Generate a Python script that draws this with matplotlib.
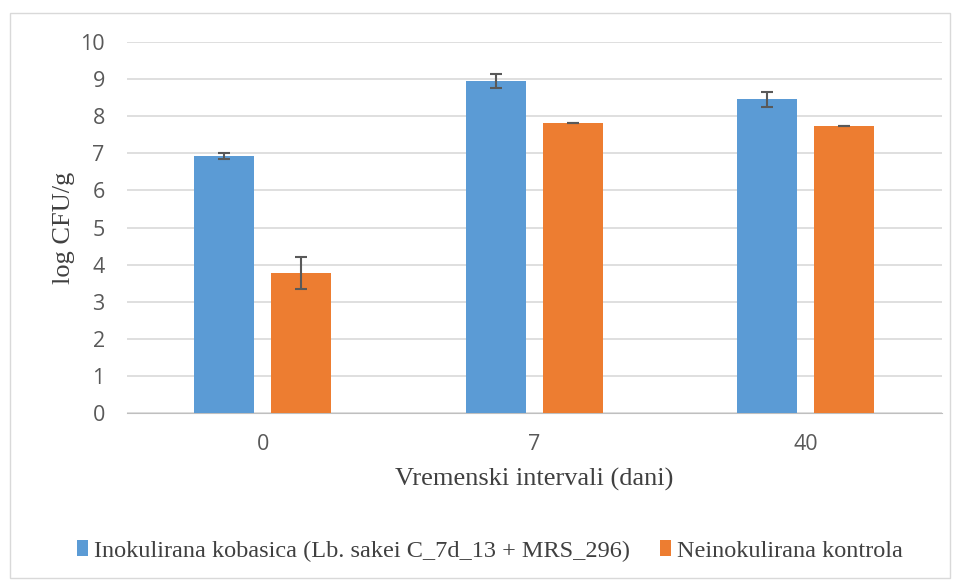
import matplotlib.pyplot as plt
import numpy as np
from matplotlib.patches import Rectangle

# data
days = ['0', '7', '40']
inokulirana = [6.93, 8.95, 8.46]
inokulirana_err = [0.07, 0.19, 0.20]
kontrola = [3.77, 7.82, 7.74]
kontrola_err = [0.43, 0.01, 0.01]

blue = '#5b9bd5'
orange = '#ed7d31'
grey = '#595959'

fig = plt.figure(figsize=(9.57, 5.81), dpi=100)
ax = fig.add_axes([0.1327, 0.289, 0.8513, 0.6387])

# outer chart border
fig.patches.append(Rectangle((10/957, 1 - 578/581), 940/957, 565/581,
                             transform=fig.transFigure, fill=False,
                             edgecolor='#d9d9d9', linewidth=1))

x = np.arange(len(days))
w = 0.221
off = 0.142
ax.bar(x - off, inokulirana, w, color=blue, yerr=inokulirana_err,
       error_kw=dict(ecolor=grey, elinewidth=1.5, capsize=4.5, capthick=1.5),
       label='Inokulirana kobasica (Lb. sakei C_7d_13 + MRS_296)', zorder=3)
ax.bar(x + off, kontrola, w, color=orange, yerr=kontrola_err,
       error_kw=dict(ecolor=grey, elinewidth=1.5, capsize=4.5, capthick=1.5),
       label='Neinokulirana kontrola', zorder=3)

ax.set_xlim(-0.5, 2.5)
ax.set_ylim(0, 10)
ax.set_yticks(range(0, 11))
ax.set_xticks(x)
ax.set_xticklabels(days)
ax.yaxis.grid(True, color='#d9d9d9', linewidth=1.2, zorder=0)
ax.set_axisbelow(True)
for s in ['top', 'right', 'left']:
    ax.spines[s].set_visible(False)
ax.spines['bottom'].set_color('#bfbfbf')
ax.tick_params(axis='both', length=0, labelsize=15.5, labelcolor=grey)
ax.tick_params(axis='y', pad=16)
ax.tick_params(axis='x', pad=15)
for lab in ax.get_xticklabels() + ax.get_yticklabels():
    lab.set_family('Open Sans')

ax.set_ylabel('log CFU/g', family='Liberation Serif', fontsize=19, color='#404040', labelpad=4)
ax.set_xlabel('Vremenski intervali (dani)', family='Liberation Serif', fontsize=19,
              color='#404040', labelpad=9)

leg = fig.legend(loc='center', bbox_to_anchor=(0.512, 1 - 551/581), ncol=2, frameon=False,
                 prop={'family': 'Liberation Serif', 'size': 17.5}, handlelength=0.45,
                 handleheight=0.6, handletextpad=0.25, columnspacing=1.2)
for t in leg.get_texts():
    t.set_color('#404040')

fig.savefig('out.png', dpi=100)
